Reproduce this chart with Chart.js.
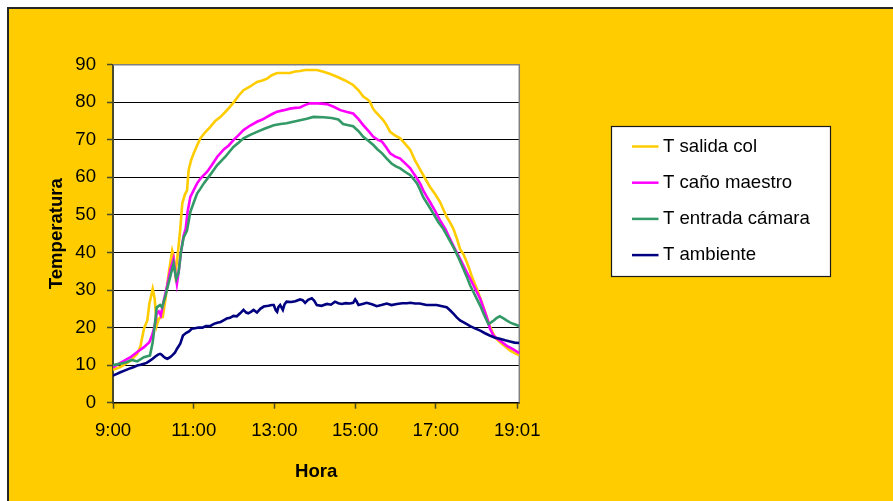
<!DOCTYPE html>
<html>
<head>
<meta charset="utf-8">
<script src="https://cdn.jsdelivr.net/npm/chart.js@4"></script>
<style>
html,body{margin:0;padding:0;background:#fff;overflow:hidden;}
canvas{display:block;}
</style>
</head>
<body>
<canvas id="c" width="893" height="501" style="width:893px;height:501px"></canvas>
<script>
// ---- data (x = minutes after 9:00) ----
const xTickMinutes = [0, 120, 240, 360, 480, 601];
const xTickLabels = ['9:00', '11:00', '13:00', '15:00', '17:00', '19:01'];
const seriesLabels = ['T salida col', 'T caño maestro', 'T entrada cámara', 'T ambiente'];
const seriesColors = ['#FFCC00', '#FF00FF', '#339966', '#000080'];

const salidaMin = [0,11,26,36,41,46,51,54,59,62,65,68,71,74,78,83,88,90,92.5,95,97.5,100,103,107,110,112.5,116,120,125,130,137,145,152,160,170,180,187,194,204,214,222,229,236,244,254,263,271,278,286,293,303,313,323,333,345,357,365,372,378,382,386,390,396,402,407,412,419,427,434,442,449,457,464,471,479,486,491,496,501,506,511,516,521,526,530,533,537,541,548,555,560,564,568,573,578,584,590,597,604];
const salidaVal = [8.8,9.5,11.2,13.0,15.2,19.7,21.9,26.3,30.3,27.6,20.5,22.3,22.8,22.8,27.6,34.7,40.5,39.2,34.7,37.4,41.8,46.3,53.1,55.5,56.5,62,64.5,66.4,68.5,70.4,72,73.5,75,76.1,78,80.1,81.8,83.2,84.2,85.4,85.8,86.3,87.2,87.8,87.8,87.8,88.2,88.3,88.6,88.6,88.6,88.1,87.5,86.8,85.8,84.6,83.2,81.5,80.8,80.1,78.5,77.5,76.4,75.2,73.8,72.1,71.2,70.4,69.0,67.3,64.5,61.9,59.7,57.5,55.5,53.5,51.5,49.5,48,46.3,43.8,40.9,39.5,37.4,35.5,33.8,32,30.3,26.8,23.2,20.5,18.8,17.4,16.5,15.7,14.8,13.9,13.2,12.6];

const canoMin = [0,11,26,36,46,54,58,62,65,68,71,75,80,85,90,92.5,95,97.5,101,105,108,111,115,120,125,130,135,140,147,155,165,172,179,187,194,204,214,222,229,236,244,254,263,271,278,286,293,305,318,328,338,348,357,365,372,380,387,394,400,406,412,419,427,434,442,447,452,457,461,466,471,479,486,494,500,506,511,516,521,526,531,536,541,546,553,557,560.5,565.5,570,575,580,585,595,604];
const canoVal = [9.4,10.6,12.1,13.5,14.8,16.1,17.9,20.5,23.7,24.3,23.2,26.8,30.7,35.2,38.3,34.7,31.6,34.7,40.1,44.5,46.3,51,54.8,56.6,58.4,59.7,60.6,61.5,63.3,65.5,67.5,68.5,69.9,71.3,72.6,73.8,74.8,75.4,76.1,76.8,77.5,77.9,78.3,78.5,78.6,79.3,79.7,79.7,79.5,78.8,77.9,77.4,77.0,75.5,73.9,72.3,70.8,70.0,69.5,68,66.4,65.6,65.0,63.8,62.4,61,59.7,58.2,56.6,55,53.5,51,48.6,46.3,44,41.8,40,38.3,36.5,34.7,33,31.2,29.4,27.6,24.1,22,19.7,17.9,17.2,16.6,15.9,15.2,14.2,13.2];

const entradaMin = [0,11,20,28,36,46,55,59,62,65,70,73,78,83,88,90,94,97.5,101,105,110,115,120,125,130,135,145,155,167,179,187,194,204,214,226,239,249,258,268,278,288,298,313,325,335,342,350,357,365,372,380,387,393,400,407,414,420,427,434,442,447,452,457,461,469,476,484,491,498,506,514,521,526,531,536,541,546,550,554,558,562,566,570,575,580,585,590,595,600,604];
const entradaVal = [10.0,10.4,10.8,11.4,11.0,12.1,12.6,16.1,20.5,25.4,26.0,25.4,28.5,32.1,35.6,37.0,33.0,34.7,40.1,44.0,45.8,50.8,53.3,55.7,57,58.4,60.8,63.3,65.5,68.1,69.3,70.4,71.3,72.1,73.0,73.9,74.2,74.4,74.8,75.2,75.6,76.1,76.0,75.8,75.4,74.2,73.9,73.6,72.3,70.8,69.7,68.6,67.5,66.4,65,63.7,63,62.4,61.5,60.6,59.5,58.4,56.5,54.8,52.5,50.4,48,46.3,44,41.4,38.5,35.6,33.5,31.2,29.4,27.6,25.8,24.1,22.5,21.0,21.4,21.9,22.5,23.0,22.5,21.9,21.4,21.0,20.7,20.4];

const ambienteMin = [0,5,11,18,26,31,36,41,46,50,55,59,63,67,70,72,75,78,81,85,88,92,95,100,102,104,109,113,117,122,127,133,138,144,150,155,160,165,169,174,179,184,189,194,198,201,205,209,214,219,224,231,236,239,242,244,246,248.5,251,252.5,255,258,265,271,278,282,285.6,290,295.5,299,303,310,318,324,330,335,340,346,352,357,360,362,365,371,377,385,392,399,407,414,422,430,437,442,449,456,461,466,474,481,486,491,496,501,506,511,516,524,531,538,546,553,560,568,575,583,590,597,604];
const ambienteVal = [7.2,7.6,8.1,8.6,9.2,9.5,9.9,10.1,10.4,10.6,11.2,11.7,12.3,12.8,13.0,12.8,12.3,11.9,11.7,12.1,12.6,13.3,14.3,15.7,16.8,17.9,18.6,19.0,19.7,19.8,20.0,20.0,20.4,20.4,21.0,21.3,21.5,22.0,22.4,22.6,23.1,23.0,23.8,24.7,24.0,23.8,24.2,24.7,24.0,25.0,25.6,25.8,26.0,26.0,24.6,24.2,25.5,26.0,25.2,24.7,26.2,26.9,26.8,27.0,27.5,27.3,26.6,27.4,27.8,27.2,26.0,25.8,26.3,26.1,26.9,26.5,26.3,26.5,26.4,26.6,27.5,27.0,26.0,26.3,26.6,26.2,25.7,26.0,26.4,26.0,26.3,26.5,26.5,26.6,26.4,26.4,26.2,26.0,26.0,26.0,25.8,25.6,25.4,24.6,23.7,22.7,21.9,21.1,20.4,19.8,19.2,18.5,17.9,17.3,17.0,16.6,16.3,16.0,15.9];

const yMin = 0, yMax = 90, yStep = 10, xMax = 604;

// ---- chart ----
const FONT = '"Liberation Sans", Arial, sans-serif';
const FS = 18.6;
Chart.defaults.font.family = FONT;
Chart.defaults.font.size = FS;
Chart.defaults.color = '#000';

function mk(i, mins, vals) {
  return {
    label: seriesLabels[i],
    data: mins.map((m, k) => ({x: m, y: vals[k]})),
    borderColor: seriesColors[i],
    backgroundColor: seriesColors[i],
    borderWidth: 2.6,
    pointRadius: 0,
    tension: 0,
    fill: false,
    order: 3 - i
  };
}

const bgPlugin = {
  id: 'bg',
  beforeDraw(chart) {
    const c = chart.ctx, W = chart.width, H = chart.height, a = chart.chartArea;
    c.save();
    c.fillStyle = '#fff';
    c.fillRect(0, 0, W, H);
    c.fillStyle = '#262626';
    c.fillRect(7, 7, W - 7, 2);
    c.fillRect(7, 7, 2, H - 7);
    c.fillStyle = '#FFCC00';
    c.fillRect(9, 9, W - 9, H - 9);
    c.fillStyle = '#fff';
    c.fillRect(a.left, a.top, a.right - a.left, a.bottom - a.top);
    c.restore();
  },
  beforeDatasetsDraw(chart) {
    const c = chart.ctx, a = chart.chartArea;
    c.save();
    c.strokeStyle = '#808080';
    c.lineWidth = 1.5;
    c.beginPath();
    c.moveTo(a.left, a.top);
    c.lineTo(a.right, a.top);
    c.lineTo(a.right, a.bottom);
    c.stroke();
    c.restore();
  }
};

const legendPlugin = {
  id: 'boxLegend',
  afterDraw(chart) {
    const c = chart.ctx;
    const bx = 611.5, by = 126.5, bw = 219, bh = 150;
    c.save();
    c.fillStyle = '#fff';
    c.fillRect(bx, by, bw, bh);
    c.strokeStyle = '#1a1a1a';
    c.lineWidth = 1.2;
    c.strokeRect(bx, by, bw, bh);
    c.font = FS + 'px ' + FONT;
    c.textBaseline = 'middle';
    c.textAlign = 'left';
    chart.data.datasets.forEach((ds, i) => {
      const y = 146.5 + i * 36.2;
      c.strokeStyle = ds.borderColor;
      c.lineWidth = 2.5;
      c.beginPath();
      c.moveTo(632, y);
      c.lineTo(658.5, y);
      c.stroke();
      c.fillStyle = '#000';
      c.fillText(ds.label, 663, y);
    });
    c.restore();
  }
};

new Chart(document.getElementById('c'), {
  type: 'line',
  data: {
    datasets: [
      mk(0, salidaMin, salidaVal),
      mk(1, canoMin, canoVal),
      mk(2, entradaMin, entradaVal),
      mk(3, ambienteMin, ambienteVal)
    ]
  },
  options: {
    responsive: false,
    animation: false,
    devicePixelRatio: 1,
    layout: {padding: {left: 0, top: 64.7, right: 373.7, bottom: 0}},
    plugins: {legend: {display: false}, tooltip: {enabled: false}},
    scales: {
      x: {
        type: 'linear',
        min: 0,
        max: xMax,
        afterBuildTicks: s => { s.ticks = xTickMinutes.map(v => ({value: v})); },
        afterFit: s => { s.height = 98.3; },
        ticks: {
          autoSkip: false,
          maxRotation: 0,
          minRotation: 0,
          padding: 11.5,
          color: '#000',
          font: {size: FS},
          callback: v => {
            const i = xTickMinutes.indexOf(v);
            return i >= 0 ? xTickLabels[i] : '';
          }
        },
        grid: {drawOnChartArea: false, drawTicks: true, tickLength: 6, color: '#4a4a2a', tickWidth: 1.5},
        border: {display: true, color: '#000', width: 1.5},
        title: {display: true, text: 'Hora', color: '#000', font: {size: FS, weight: 'bold'}, padding: {top: 0, bottom: 18}}
      },
      y: {
        min: yMin,
        max: yMax,
        afterFit: s => { s.width = 113; },
        ticks: {stepSize: yStep, padding: 11, color: '#000', font: {size: FS}},
        grid: {color: '#000', lineWidth: 1, drawTicks: true, tickLength: 6, tickColor: '#4a4a2a', tickWidth: 1.5},
        border: {display: true, color: '#4a4a2a', width: 2},
        title: {display: true, text: 'Temperatura', color: '#000', font: {size: FS, weight: 'bold'}, padding: {top: 45.5, bottom: 0}}
      }
    }
  },
  plugins: [bgPlugin, legendPlugin]
});
</script>
</body>
</html>
